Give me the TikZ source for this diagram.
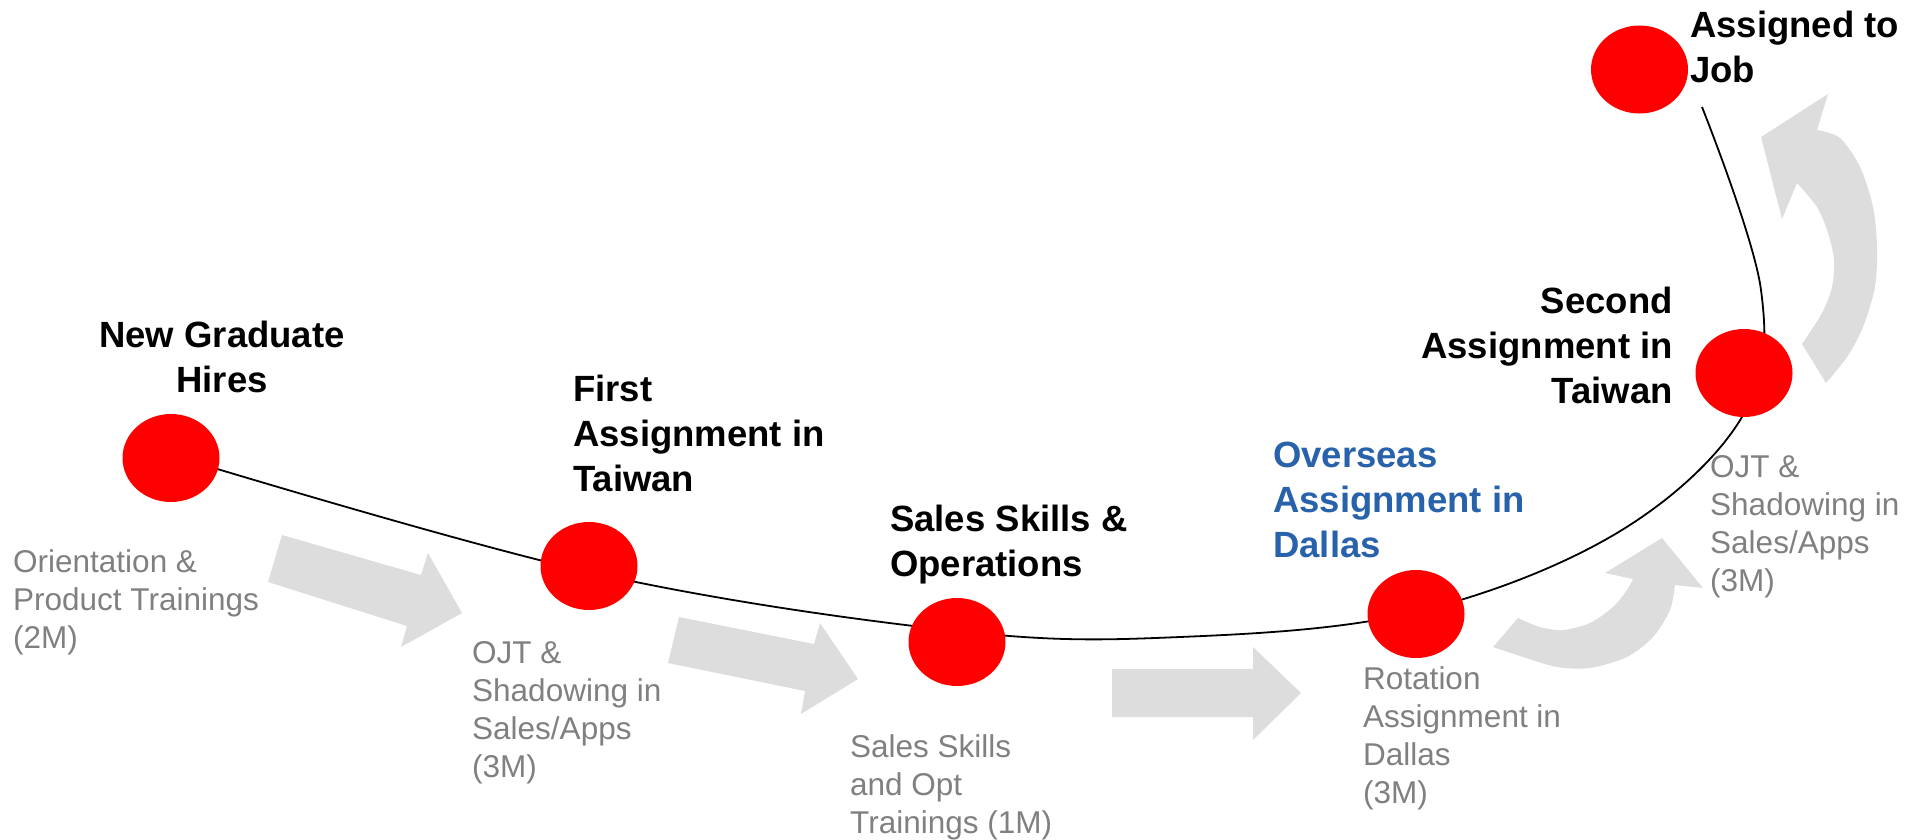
\documentclass[tikz,border=0pt]{standalone}
\usepackage{fontspec}
\setmainfont{Liberation Sans}
\usetikzlibrary{shapes.geometric}
\definecolor{dotred}{RGB}{255,0,0}
\definecolor{arrowgray}{RGB}{221,221,221}
\definecolor{gtext}{RGB}{128,128,128}
\definecolor{oblue}{RGB}{40,98,170}
\newcommand\bstrut{\rule{0pt}{30bp}}
\newcommand\gstrut{\rule{0pt}{26bp}}
\tikzset{
  dot/.style={ellipse, fill=dotred, draw=none, minimum width=97bp, minimum height=88bp, inner sep=0pt},
  boldlbl/.style={font=\bfseries\fontsize{36.5bp}{45bp}\selectfont, inner sep=0pt, align=left},
  graylbl/.style={font=\fontsize{31.5bp}{38bp}\selectfont, text=gtext, inner sep=0pt, align=left},
  pathline/.style={draw=black, line width=1.8bp},
  blockarrow/.style={fill=arrowgray, draw=none}
}
\begin{document}
\begin{tikzpicture}[x=1bp,y=-1bp]
\useasboundingbox (0,0) rectangle (1927,840);

% grey block arrows
\fill[blockarrow] (282,535) -- (421,575) -- (428,553) -- (462,613) -- (401,647) -- (407,626) -- (268,582) -- cycle;
\fill[blockarrow] (679,617) -- (814,644) -- (820,623) -- (858,679) -- (801,714) -- (805,691) -- (668,663) -- cycle;
\fill[blockarrow] (1112,669) -- (1253,669) -- (1253,647) -- (1301,693) -- (1253,740) -- (1253,717) -- (1112,717) -- cycle;
% lower curved arrow
\fill[blockarrow] (1493,647) -- (1518,618)
  -- plot[smooth] coordinates {(1518,618) (1540,627) (1563,630) (1590,623) (1613,607) (1627,590) (1633,579)}
  -- (1605,573) -- (1662,538) -- (1703,588) -- (1675,585)
  -- plot[smooth] coordinates {(1675,585) (1670,610) (1653,637) (1627,657) (1590,668) (1557,667) (1523,657) (1493,647)}
  -- cycle;
% upper curved arrow
\fill[blockarrow] (1828,94) -- (1817,130)
  -- plot[smooth] coordinates {(1817,130) (1840,138) (1860,167) (1873,207) (1877,247) (1875,287) (1863,327) (1847,357) (1826,383)}
  -- (1802,344)
  -- plot[smooth] coordinates {(1802,344) (1822,313) (1832,287) (1834,260) (1828,233) (1817,207) (1797,183)}
  -- (1782,219) -- (1761,137) -- cycle;

% path coordinates
\coordinate (q0) at (171,455);
\coordinate (q1) at (589,572);
\coordinate (q2) at (957,631);
\coordinate (q3) at (1180,637);
\coordinate (q4) at (1416,612);
\coordinate (q5) at (1617,533);
\coordinate (q6) at (1742,417);
\coordinate (q7) at (1761,290);
\coordinate (q8) at (1702,107);
\draw[pathline] plot[smooth, tension=0.6] coordinates {(q0) (q1) (q2) (q3) (q4) (q5) (q6) (q7) (q8)};

% milestones
\node[dot] (n1) at (171,458) {};
\node[dot] (n2) at (589,566) {};
\node[dot] (n3) at (957,642) {};
\node[dot] (n4) at (1416,614) {};
\node[dot] (n5) at (1744,373) {};
\node[dot] (n6) at (1639.5,69.5) {};

% bold titles
\node[boldlbl, align=center, anchor=north] (t1) at (222,317) {\bstrut New Graduate\\Hires};
\node[boldlbl, anchor=north west] (t2) at (573,371) {\bstrut First\\Assignment in\\Taiwan};
\node[boldlbl, anchor=north west] (t3) at (890,501) {\bstrut Sales Skills \&\\Operations};
\node[boldlbl, anchor=north west, text=oblue] (t4) at (1273,437) {\bstrut Overseas\\Assignment in\\Dallas};
\node[boldlbl, align=right, anchor=north east] (t5) at (1673,283) {\bstrut Second\\Assignment in\\Taiwan};
\node[boldlbl, anchor=north west] (t6) at (1690,7) {\bstrut Assigned to\\Job};

% grey descriptions
\node[graylbl, anchor=north west] (d1) at (13,546) {\gstrut Orientation \&\\Product Trainings\\(2M)};
\node[graylbl, anchor=north west] (d2) at (472,637) {\gstrut OJT \&\\Shadowing in\\Sales/Apps\\(3M)};
\node[graylbl, anchor=north west] (d3) at (850,731) {\gstrut Sales Skills\\and Opt\\Trainings (1M)};
\node[graylbl, anchor=north west] (d4) at (1363,663) {\gstrut Rotation\\Assignment in\\Dallas\\(3M)};
\node[graylbl, anchor=north west] (d5) at (1710,451) {\gstrut OJT \&\\Shadowing in\\Sales/Apps\\(3M)};
\end{tikzpicture}
\end{document}
